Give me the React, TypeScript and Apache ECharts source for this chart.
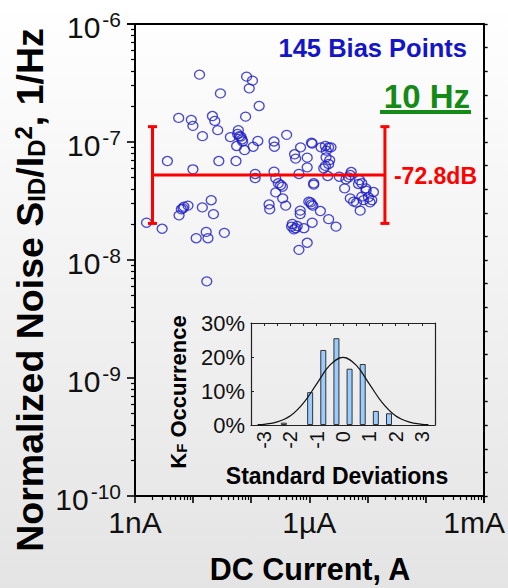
import React, { useEffect, useRef } from 'react';
import * as echarts from 'echarts';

const FONT = '"Liberation Sans", Arial, Helvetica, sans-serif';

// DC bias current (A) of each measured point
const biasCurrent = [
  1.29e-8, 8.32e-8, 1.05e-7, 9.25e-8, 2.95e-8, 1.37e-7, 5.65e-9, 9.31e-9, 9.93e-9, 2.15e-8,
  2.36e-8, 8.0e-8, 2.65e-8, 1.45e-8, 4.38e-8, 6.0e-8, 6.24e-8, 6.92e-8, 5.61e-8, 7.69e-8,
  1.08e-7, 1.3e-7, 2.47e-7, 2.51e-7, 4.07e-7, 3.61e-9, 9.93e-9, 2.77e-8, 5.47e-8, 1.17e-7,
  1.17e-7, 2.47e-7, 2.64e-7, 2.93e-7, 3.44e-7, 2.64e-7, 3.48e-7, 3.92e-7, 2.03e-7, 2.08e-7,
  7.06e-7, 5.57e-7, 5.81e-7, 9.19e-7, 9.19e-7, 6.62e-7, 1.09e-6, 1.12e-6, 1.59e-6, 2.15e-6,
  1.96e-6, 1.94e-6, 2.15e-6, 1.77e-6, 2.07e-6, 1.19e-6, 1.19e-6, 9.8e-7, 1.09e-6, 1.05e-6,
  1.55e-6, 2.15e-6, 2.88e-6, 1.12e-6, 6.97e-7, 6.97e-7, 5.09e-7, 4.95e-7, 5.81e-7, 8.05e-7,
  9.19e-7, 6.62e-7, 3.28e-6, 4.27e-6, 5.26e-6, 5.06e-6, 4.05e-6, 7.3e-6, 8.0e-6, 9.38e-6,
  1.27e-5, 5.06e-6, 5.77e-6, 6.49e-6, 8.0e-6, 1.04e-5, 1.11e-5, 7.5e-6, 1.58e-9, 2.93e-9,
  5.73e-9, 6.28e-9, 6.97e-9, 8.17e-9, 1.44e-8, 2.05e-8, 2.24e-8, 1.13e-8, 1.68e-8, 1.8e-8,
  3.45e-8, 1.72e-8, 6.65e-8, 7.11e-8, 2.36e-6, 1.89e-6, 2.24e-6, 6.7e-9, 1.15e-6, 5.43e-7,
  6.19e-7, 3.21e-7, 8.55e-6, 1.19e-5, 9.49e-6, 4.73e-6, 7.02e-6, 1.89e-6, 5.83e-8,
];

// Normalized drain-current noise S_ID/I_D^2 (1/Hz) at 10 Hz
const normNoise = [
  3.72e-7, 3.58e-7, 3.31e-7, 2.85e-7, 2.58e-7, 2.02e-7, 1.6e-7, 1.54e-7, 1.37e-7, 1.66e-7,
  1.51e-7, 1.64e-7, 1.26e-7, 1.12e-7, 1.1e-7, 1.26e-7, 1.12e-7, 1.05e-7, 9.25e-8, 8.55e-8,
  9.12e-8, 1.02e-7, 1.01e-7, 9.12e-8, 1.15e-7, 6.9e-8, 5.87e-8, 6.9e-8, 6.9e-8, 5.36e-8,
  4.95e-8, 5.61e-8, 4.92e-8, 4.47e-8, 4.18e-8, 3.74e-8, 3.33e-8, 2.89e-8, 2.96e-8, 2.69e-8,
  9.01e-8, 7.87e-8, 7.23e-8, 7.37e-8, 6.1e-8, 5.36e-8, 9.86e-8, 9.68e-8, 9.01e-8, 9.01e-8,
  8.45e-8, 7.41e-8, 6.51e-8, 5.98e-8, 5.15e-8, 4.47e-8, 4.35e-8, 3.12e-8, 2.96e-8, 3.08e-8,
  2.6e-8, 2.22e-8, 1.92e-8, 2.07e-8, 2.62e-8, 2.45e-8, 2.02e-8, 1.92e-8, 1.86e-8, 1.86e-8,
  1.4e-8, 1.22e-8, 5.08e-8, 4.83e-8, 5.57e-8, 5.25e-8, 4.05e-8, 4.76e-8, 4.47e-8, 4.05e-8,
  3.77e-8, 3.33e-8, 3.12e-8, 3.06e-8, 3.44e-8, 3.4e-8, 3.08e-8, 2.62e-8, 2.07e-8, 1.84e-8,
  2.39e-8, 2.69e-8, 2.83e-8, 2.89e-8, 2.79e-8, 3.21e-8, 2.45e-8, 1.53e-8, 1.73e-8, 1.53e-8,
  1.7e-8, 6.59e-9, 1.11e-7, 1.01e-7, 9.01e-8, 9.25e-8, 7.03e-8, 2.74e-8, 2.89e-8, 1.82e-8,
  1.94e-8, 4.32e-8, 3.22e-8, 3.22e-8, 3.87e-8, 5.02e-8, 4.41e-8, 6.27e-8, 1.17e-7,
];

// Mean level and spread in dB, and the current range the bar spans
const meanDb = -72.8;
const spreadDb = 4.1;
const barCurrentRange = [2.0e-9, 2.0e-5];

// Decade labels of the current axis
const currentLabels: Record<string, string> = { '-9': '1nA', '-6': '1\u00b5A', '-3': '1mA' };

// K_F distribution (bins 0.5 sigma wide) and the fitted normal curve
const sdBinCenters = [-2.25, -1.25, -0.75, -0.25, 0.25, 0.75, 1.25, 1.75];
const occurrencePct = [0.69, 9.66, 22.07, 25.52, 16.55, 17.93, 4.14, 3.45];
const fitSd = [-3.25, -3, -2.5, -2, -1.5, -1, -0.5, 0, 0.5, 1, 1.5, 2, 2.5, 3, 3.25];
const fitPct = [0.1, 0.2, 0.9, 2.7, 6.5, 12.1, 17.6, 19.9, 17.6, 12.1, 6.5, 2.7, 0.9, 0.2, 0.1];
const sdTicks = [-3, -2, -1, 0, 1, 2, 3];

const dbToLin = (db: number) => Math.pow(10, db / 10);

export default function App() {
  const ref = useRef<HTMLDivElement>(null);

  useEffect(() => {
    if (!ref.current) return;
    const chart = echarts.init(ref.current, null, { renderer: 'svg' });

    const points = biasCurrent.map((c, i) => [c, normNoise[i]]);
    const meanVal = dbToLin(meanDb);
    const loVal = dbToLin(meanDb - spreadDb);
    const hiVal = dbToLin(meanDb + spreadDb);

    const black = '#000000';
    const insetLine = { show: true, onZero: false, lineStyle: { color: '#222', width: 1.2 } };

    chart.setOption({
      animation: false,
      backgroundColor: new echarts.graphic.LinearGradient(0, 0, 0, 1, [
        { offset: 0, color: '#ffffff' },
        { offset: 1, color: '#e4e4e4' },
      ]),
      textStyle: { fontFamily: FONT },
      grid: [
        { left: 135, right: 22, top: 24, bottom: 92 },
        { left: 251, right: 73, top: 323, bottom: 163 },
      ],
      xAxis: [
        {
          type: 'log',
          logBase: 10,
          gridIndex: 0,
          min: 1e-9,
          max: 1e-3,
          splitNumber: 6,
          axisLine: { show: true, lineStyle: { color: black, width: 2 } },
          axisTick: { show: true, length: 7, lineStyle: { color: black, width: 1.6 } },
          minorTick: { show: true, splitNumber: 9, length: 4, lineStyle: { color: black, width: 1.2 } },
          splitLine: { show: false },
          minorSplitLine: { show: false },
          axisLabel: {
            margin: 11,
            fontSize: 30,
            color: '#111',
            fontFamily: FONT,
            formatter: (v: number) => {
              const e = String(Math.round(Math.log10(v)));
              const t = currentLabels[e] || '';
              return e === '-3' ? `{r|${t}}` : t;
            },
            rich: { r: { fontSize: 30, color: '#111', fontFamily: FONT, padding: [0, 19, 0, 0] } },
          },
        },
        {
          type: 'value',
          gridIndex: 0,
          position: 'top',
          min: 0,
          max: 1,
          axisLine: { show: true, onZero: false, lineStyle: { color: black, width: 2 } },
          axisTick: { show: false },
          axisLabel: { show: false },
          splitLine: { show: false },
        },
        {
          type: 'value',
          gridIndex: 1,
          min: -3.5,
          max: 3.5,
          interval: 0.5,
          axisLine: insetLine,
          axisTick: { show: false },
          splitLine: { show: false },
          axisLabel: {
            customValues: sdTicks,
            rotate: 90,
            margin: 6,
            fontSize: 20,
            color: '#111',
            fontFamily: FONT,
          },
        },
        {
          type: 'value',
          gridIndex: 1,
          position: 'top',
          min: -3.5,
          max: 3.5,
          interval: 0.5,
          axisLine: insetLine,
          axisTick: { show: true, inside: true, length: 3, lineStyle: { color: '#222', width: 1 } },
          axisLabel: { show: false },
          splitLine: { show: false },
        },
      ],
      yAxis: [
        {
          type: 'log',
          logBase: 10,
          gridIndex: 0,
          min: 1e-10,
          max: 1e-6,
          splitNumber: 4,
          axisLine: { show: true, lineStyle: { color: black, width: 2 } },
          axisTick: { show: true, length: 8, lineStyle: { color: black, width: 1.6 } },
          minorTick: { show: true, splitNumber: 9, length: 4, lineStyle: { color: black, width: 1.2 } },
          splitLine: { show: false },
          minorSplitLine: { show: false },
          axisLabel: {
            margin: 14,
            color: '#111',
            fontFamily: FONT,
            formatter: (v: number) => `{b|10}{s|${Math.round(Math.log10(v))}}`,
            rich: {
              b: {
                fontSize: 30, lineHeight: 30, color: '#111', fontFamily: FONT,
                verticalAlign: 'top', padding: [3, 0, 7, 0],
              },
              s: {
                fontSize: 21, lineHeight: 21, color: '#111', fontFamily: FONT,
                verticalAlign: 'top', padding: [0, 0, 0, 2],
              },
            },
          },
        },
        {
          type: 'value',
          gridIndex: 0,
          position: 'right',
          min: 0,
          max: 40,
          interval: 2,
          axisLine: { show: true, onZero: false, lineStyle: { color: black, width: 2 } },
          axisTick: { show: true, length: 4, lineStyle: { color: black, width: 1.4 } },
          axisLabel: { show: false },
          splitLine: { show: false },
        },
        {
          type: 'value',
          gridIndex: 1,
          min: 0,
          max: 30,
          interval: 10,
          axisLine: insetLine,
          axisTick: { show: true, inside: true, length: 3, lineStyle: { color: '#222', width: 1 } },
          splitLine: { show: false },
          axisLabel: { formatter: '{value}%', fontSize: 22, color: '#111', margin: 6, fontFamily: FONT },
        },
        {
          type: 'value',
          gridIndex: 1,
          position: 'right',
          min: 0,
          max: 30,
          axisLine: insetLine,
          axisTick: { show: false },
          axisLabel: { show: false },
          splitLine: { show: false },
        },
      ],
      series: [
        {
          type: 'scatter',
          xAxisIndex: 0,
          yAxisIndex: 0,
          data: points,
          symbol: 'circle',
          symbolSize: [10, 9],
          itemStyle: { color: 'rgba(0,0,0,0)', borderColor: '#1c1cc4', borderWidth: 1.3 },
          silent: true,
          z: 2,
        },
        {
          type: 'custom',
          xAxisIndex: 0,
          yAxisIndex: 0,
          z: 3,
          silent: true,
          data: [[barCurrentRange[0], meanVal, barCurrentRange[1], loVal, hiVal]],
          encode: { x: [0, 2], y: [1, 3, 4] },
          renderItem: (_params: any, api: any) => {
            const xl = api.value(0);
            const m = api.value(1);
            const xr = api.value(2);
            const lo = api.value(3);
            const hi = api.value(4);
            const pL = api.coord([xl, m]);
            const pR = api.coord([xr, m]);
            const lt = api.coord([xl, hi]);
            const lb = api.coord([xl, lo]);
            const rt = api.coord([xr, hi]);
            const rb = api.coord([xr, lo]);
            const cap = 4.5;
            const st = { stroke: '#ff0000', lineWidth: 3 };
            const seg = (x1: number, y1: number, x2: number, y2: number) => ({
              type: 'line',
              shape: { x1, y1, x2, y2 },
              style: st,
            });
            return {
              type: 'group',
              children: [
                seg(pL[0], pL[1], pR[0], pR[1]),
                seg(lt[0], lt[1], lb[0], lb[1]),
                seg(rt[0], rt[1], rb[0], rb[1]),
                seg(lt[0] - cap, lt[1], lt[0] + cap, lt[1]),
                seg(lb[0] - cap, lb[1], lb[0] + cap, lb[1]),
                seg(rt[0] - cap, rt[1], rt[0] + cap, rt[1]),
                seg(rb[0] - cap, rb[1], rb[0] + cap, rb[1]),
                {
                  type: 'text',
                  x: pR[0] + 9,
                  y: pR[1] + 1,
                  style: {
                    text: `${meanDb.toFixed(1)}dB`,
                    fill: '#ff0000',
                    font: `bold 23px ${FONT}`,
                    align: 'left',
                    verticalAlign: 'middle',
                  },
                },
              ],
            };
          },
        },
        {
          type: 'bar',
          xAxisIndex: 2,
          yAxisIndex: 2,
          data: sdBinCenters.map((x, i) => [x, occurrencePct[i]]),
          barWidth: 6,
          itemStyle: { color: '#99ccff', borderColor: '#333', borderWidth: 1 },
          silent: true,
        },
        {
          type: 'line',
          xAxisIndex: 2,
          yAxisIndex: 2,
          data: fitSd.map((x, i) => [x, fitPct[i]]),
          smooth: 0.4,
          showSymbol: false,
          lineStyle: { color: '#111', width: 1.2 },
          silent: true,
          z: 3,
        },
      ],
      graphic: [
        {
          type: 'text',
          x: 30,
          y: 290,
          rotation: Math.PI / 2,
          silent: true,
          style: {
            text: '{t|Normalized Noise S}{sub|ID}{t|/I}{sub|D}{sup|2}{t|, 1/Hz}',
            align: 'center',
            verticalAlign: 'middle',
            fill: '#000',
            rich: {
              t: { fontSize: 37.5, fontWeight: 'bold', fontFamily: FONT, fill: '#000', lineHeight: 37, padding: [6, 0, 6, 0] },
              sub: { fontSize: 24, fontWeight: 'bold', fontFamily: FONT, fill: '#000', lineHeight: 24, verticalAlign: 'bottom' },
              sup: { fontSize: 24, fontWeight: 'bold', fontFamily: FONT, fill: '#000', lineHeight: 24, verticalAlign: 'top' },
            },
          },
        },
        {
          type: 'text',
          x: 310,
          y: 569,
          silent: true,
          style: {
            text: 'DC Current, A',
            font: `bold 30.5px ${FONT}`,
            fill: '#000',
            align: 'center',
            verticalAlign: 'middle',
          },
        },
        {
          type: 'text',
          x: 467,
          y: 48,
          silent: true,
          style: {
            text: '145 Bias Points',
            font: `bold 25.5px ${FONT}`,
            fill: '#1414c8',
            align: 'right',
            verticalAlign: 'middle',
          },
        },
        {
          type: 'text',
          x: 470,
          y: 96,
          silent: true,
          style: {
            text: '10 Hz',
            font: `bold 33px ${FONT}`,
            fill: '#168a16',
            align: 'right',
            verticalAlign: 'middle',
          },
        },
        {
          type: 'rect',
          silent: true,
          shape: { x: 380, y: 110, width: 91, height: 4 },
          style: { fill: '#168a16' },
        },
        {
          type: 'text',
          x: 178,
          y: 392,
          rotation: Math.PI / 2,
          silent: true,
          style: {
            text: '{t|K}{sub|F}{t| Occurrence}',
            align: 'center',
            verticalAlign: 'middle',
            fill: '#000',
            rich: {
              t: { fontSize: 22, fontWeight: 'bold', fontFamily: FONT, fill: '#000', lineHeight: 22, padding: [4, 0, 4, 0] },
              sub: { fontSize: 15, fontWeight: 'bold', fontFamily: FONT, fill: '#000', lineHeight: 15, verticalAlign: 'bottom' },
            },
          },
        },
        {
          type: 'text',
          x: 337,
          y: 476,
          silent: true,
          style: {
            text: 'Standard Deviations',
            font: `bold 23px ${FONT}`,
            fill: '#000',
            align: 'center',
            verticalAlign: 'middle',
          },
        },
      ],
    });

    return () => chart.dispose();
  }, []);

  return (
    <div
      ref={ref}
      style={{ position: 'fixed', left: 0, top: 0, width: 508, height: 588 }}
    />
  );
}
